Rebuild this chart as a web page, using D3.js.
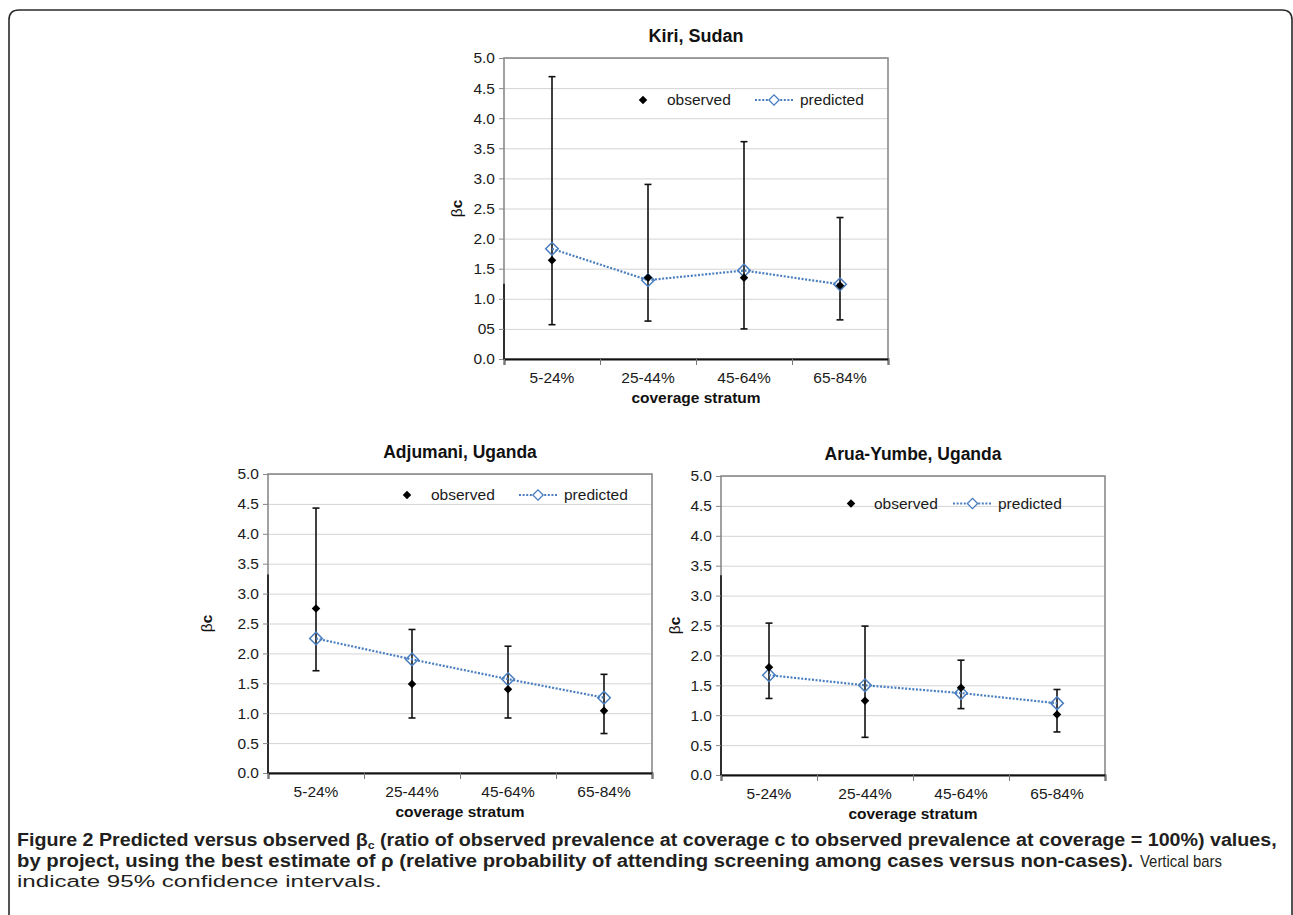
<!DOCTYPE html>
<html>
<head>
<meta charset="utf-8">
<script src="https://cdn.jsdelivr.net/npm/d3@7"></script>
<style>
  body { margin: 0; background: #fff; }
  svg  { display: block; font-family: 'Liberation Sans', Arial, sans-serif; }
  .grid line { stroke: #d4d4d4; stroke-width: 1; }
  .grid .domain { display: none; }
  .yaxis text, .xaxis text { fill: #1a1a1a; font-size: 15.5px; }
  .caption { font-family: 'Liberation Sans', Arial, sans-serif; fill: #231f20; }
</style>
</head>
<body>
<svg id="chart" width="1293" height="915"></svg>
<script>
// ---- data --------------------------------------------------------------------
const categories    = [ '5-24%', '25-44%', '45-64%', '65-84%' ];
const yTicks        = [ 0, 0.5, 1, 1.5, 2, 2.5, 3, 3.5, 4, 4.5, 5 ];
const yTickLabels   = [ '0.0', '0.5', '1.0', '1.5', '2.0', '2.5', '3.0', '3.5', '4.0', '4.5', '5.0' ];
const kiriTickLabels = [ '0.0', '05', '1.0', '1.5', '2.0', '2.5', '3.0', '3.5', '4.0', '4.5', '5.0' ];

const kiriObserved  = [ 1.64, 1.35, 1.35, 1.22 ];
const kiriPredicted = [ 1.83, 1.31, 1.47, 1.24 ];
const kiriLower     = [ 0.57, 0.63, 0.50, 0.65 ];
const kiriUpper     = [ 4.69, 2.90, 3.61, 2.35 ];

const adjuObserved  = [ 2.75, 1.49, 1.40, 1.04 ];
const adjuPredicted = [ 2.25, 1.90, 1.57, 1.26 ];
const adjuLower     = [ 1.71, 0.92, 0.92, 0.66 ];
const adjuUpper     = [ 4.43, 2.40, 2.12, 1.65 ];

const aruaObserved  = [ 1.80, 1.24, 1.46, 1.01 ];
const aruaPredicted = [ 1.67, 1.50, 1.37, 1.20 ];
const aruaLower     = [ 1.28, 0.63, 1.11, 0.72 ];
const aruaUpper     = [ 2.54, 2.49, 1.92, 1.43 ];

// ---- panel layout ------------------------------------------------------------
const panels = [
  { title: 'Kiri, Sudan', labels: kiriTickLabels,
    obs: kiriObserved, pred: kiriPredicted, lo: kiriLower, hi: kiriUpper,
    left: 504, top: 58, width: 384, height: 301, yLabelDx: 47, darkFrom: 1.25,
    legend: { y: 42, obs: 139, obsText: 163, line0: 251, line1: 289, predText: 296 } },
  { title: 'Adjumani, Uganda', labels: yTickLabels,
    obs: adjuObserved, pred: adjuPredicted, lo: adjuLower, hi: adjuUpper,
    left: 268, top: 474, width: 384, height: 299, yLabelDx: 61, darkFrom: 3.32,
    legend: { y: 21, obs: 139, obsText: 163, line0: 251, line1: 289, predText: 296 } },
  { title: 'Arua-Yumbe, Uganda', labels: yTickLabels,
    obs: aruaObserved, pred: aruaPredicted, lo: aruaLower, hi: aruaUpper,
    left: 721, top: 476, width: 384, height: 299, yLabelDx: 46, darkFrom: 3.34,
    legend: { y: 27.5, obs: 130, obsText: 153, line0: 232, line1: 271, predText: 277 } }
];

const blue = '#4a7ebf';
const svg  = d3.select( '#chart' );

// Outer rounded frame (bottom edge runs off the page).
svg.append( 'path' )
  .attr( 'd', 'M9,930 V20 Q9,10 19,10 H1282 Q1292,10 1292,20 V930' )
  .attr( 'fill', 'none' )
  .attr( 'stroke', '#2a2a2a' )
  .attr( 'stroke-width', 1.6 );

const diamond = size => d3.symbol( d3.symbolSquare, size )( );

panels.forEach( p => {
  const g = svg.append( 'g' ).attr( 'transform', `translate(${p.left},${p.top})` );
  const x = d3.scaleBand( ).domain( categories ).range( [ 0, p.width ] );
  const xEdge = d3.scaleLinear( ).domain( [ 0, categories.length ] ).range( [ 0, p.width ] );
  const y = d3.scaleLinear( ).domain( [ 0, 5 ] ).range( [ p.height, 0 ] );
  const cx = c => x( c ) + x.bandwidth( ) / 2;

  // grid lines
  g.append( 'g' ).attr( 'class', 'grid' )
    .call( d3.axisLeft( y ).tickValues( yTicks.slice( 1 ) ).tickSize( -p.width ).tickFormat( '' ) );

  // plot frame
  g.append( 'rect' )
    .attr( 'width', p.width ).attr( 'height', p.height )
    .attr( 'fill', 'none' ).attr( 'stroke', '#8a8a8a' ).attr( 'stroke-width', 1.6 );
  g.append( 'line' )
    .attr( 'x1', 0 ).attr( 'x2', 0 ).attr( 'y1', y( p.darkFrom ) ).attr( 'y2', p.height )
    .attr( 'stroke', '#111' ).attr( 'stroke-width', 1.6 );

  // y axis
  const yAxis = g.append( 'g' ).attr( 'class', 'yaxis' )
    .call( d3.axisLeft( y ).tickValues( yTicks ).tickFormat( ( d, i ) => p.labels[i] )
      .tickSize( 5 ).tickPadding( 4 ) );
  yAxis.select( '.domain' ).remove( );
  yAxis.selectAll( '.tick line' ).attr( 'stroke', '#888' );

  // x axis: boundary ticks + centred labels
  const xTicks = g.append( 'g' ).attr( 'transform', `translate(0,${p.height})` )
    .call( d3.axisBottom( xEdge ).tickValues( d3.range( categories.length + 1 ) )
      .tickSize( 6 ).tickFormat( '' ) );
  xTicks.select( '.domain' ).attr( 'stroke', '#111' ).attr( 'stroke-width', 1.8 );
  xTicks.selectAll( '.tick line' ).attr( 'stroke', '#777' );
  const xAxis = g.append( 'g' ).attr( 'class', 'xaxis' ).attr( 'transform', `translate(0,${p.height})` )
    .call( d3.axisBottom( x ).tickSize( 0 ).tickPadding( 13 ) );
  xAxis.select( '.domain' ).remove( );

  // titles
  g.append( 'text' )
    .attr( 'x', p.width / 2 ).attr( 'y', -16 )
    .attr( 'text-anchor', 'middle' ).attr( 'font-weight', 'bold' )
    .attr( 'font-size', p.title === 'Kiri, Sudan' ? 18 : 17.5 ).attr( 'fill', '#111' )
    .text( p.title );
  g.append( 'text' )
    .attr( 'x', p.width / 2 ).attr( 'y', p.height + 44 )
    .attr( 'text-anchor', 'middle' ).attr( 'font-weight', 'bold' )
    .attr( 'font-size', 15.5 ).attr( 'fill', '#111' )
    .text( 'coverage stratum' );
  const yl = g.append( 'text' )
    .attr( 'transform', `translate(${-p.yLabelDx + 5},${p.height / 2}) rotate(-90)` )
    .attr( 'text-anchor', 'middle' ).attr( 'font-size', 15.5 ).attr( 'fill', '#111' );
  yl.append( 'tspan' ).text( 'β' );
  yl.append( 'tspan' ).attr( 'font-weight', 'bold' ).text( 'c' );

  // error bars
  const eb = g.append( 'g' ).selectAll( 'g' ).data( categories ).join( 'g' )
    .attr( 'stroke', '#111' ).attr( 'stroke-width', 1.6 );
  eb.append( 'line' )
    .attr( 'x1', cx ).attr( 'x2', cx )
    .attr( 'y1', ( d, i ) => y( p.lo[i] ) ).attr( 'y2', ( d, i ) => y( p.hi[i] ) );
  [ p.lo, p.hi ].forEach( arr => {
    eb.append( 'line' )
      .attr( 'x1', d => cx( d ) - 3.5 ).attr( 'x2', d => cx( d ) + 3.5 )
      .attr( 'y1', ( d, i ) => y( arr[i] ) ).attr( 'y2', ( d, i ) => y( arr[i] ) );
  } );

  // predicted line + hollow diamonds
  g.append( 'path' )
    .datum( categories )
    .attr( 'fill', 'none' ).attr( 'stroke', blue ).attr( 'stroke-width', 2.2 )
    .attr( 'stroke-dasharray', '2,1.6' )
    .attr( 'd', d3.line( ).x( cx ).y( ( d, i ) => y( p.pred[i] ) ) );
  g.append( 'g' ).selectAll( 'path' ).data( categories ).join( 'path' )
    .attr( 'd', diamond( 80 ) )
    .attr( 'transform', ( d, i ) => `translate(${cx( d )},${y( p.pred[i] )}) rotate(45)` )
    .attr( 'fill', 'none' ).attr( 'stroke', blue ).attr( 'stroke-width', 1.5 );

  // observed diamonds
  g.append( 'g' ).selectAll( 'path' ).data( categories ).join( 'path' )
    .attr( 'd', diamond( 36 ) )
    .attr( 'transform', ( d, i ) => `translate(${cx( d )},${y( p.obs[i] )}) rotate(45)` )
    .attr( 'fill', '#000' );

  // legend
  const L = p.legend;
  const lg = g.append( 'g' ).attr( 'transform', `translate(0,${L.y})` );
  lg.append( 'path' ).attr( 'd', diamond( 36 ) )
    .attr( 'transform', `translate(${L.obs},0) rotate(45)` ).attr( 'fill', '#000' );
  lg.append( 'text' ).attr( 'x', L.obsText ).attr( 'dy', '0.35em' )
    .attr( 'font-size', 15.5 ).attr( 'fill', '#1a1a1a' ).text( 'observed' );
  lg.append( 'line' ).attr( 'x1', L.line0 ).attr( 'x2', L.line1 )
    .attr( 'stroke', blue ).attr( 'stroke-width', 2 ).attr( 'stroke-dasharray', '2,1.6' );
  lg.append( 'path' ).attr( 'd', diamond( 52 ) )
    .attr( 'transform', `translate(${( L.line0 + L.line1 ) / 2},0) rotate(45)` )
    .attr( 'fill', '#fff' ).attr( 'stroke', blue ).attr( 'stroke-width', 1.3 );
  lg.append( 'text' ).attr( 'x', L.predText ).attr( 'dy', '0.35em' )
    .attr( 'font-size', 15.5 ).attr( 'fill', '#1a1a1a' ).text( 'predicted' );
} );

// ---- caption -----------------------------------------------------------------
// Each caption line is drawn at its natural width and then scaled horizontally
// so it spans the same width as in the figure (the original uses a condensed face).
const fitLine = ( sel, x0, y0, width ) => {
  const natural = sel.node( ).getComputedTextLength( );
  sel.attr( 'transform', `translate(${x0},${y0}) scale(${width / natural},1)` );
  return sel;
};

const cap1 = svg.append( 'text' ).attr( 'class', 'caption' )
  .attr( 'font-size', 17.5 ).attr( 'font-weight', 'bold' );
cap1.append( 'tspan' ).text( 'Figure 2 Predicted versus observed β' );
cap1.append( 'tspan' ).attr( 'font-size', 11 ).attr( 'dy', 3 ).text( 'c' );
cap1.append( 'tspan' ).attr( 'dy', -3 )
  .text( ' (ratio of observed prevalence at coverage c to observed prevalence at coverage = 100%) values,' );
fitLine( cap1, 17, 846, 1260 );

fitLine( svg.append( 'text' ).attr( 'class', 'caption' )
  .attr( 'font-size', 17.5 ).attr( 'font-weight', 'bold' )
  .text( 'by project, using the best estimate of ρ (relative probability of attending screening among cases versus non-cases).' ),
  17, 867, 1117 );
fitLine( svg.append( 'text' ).attr( 'class', 'caption' )
  .attr( 'font-size', 17 ).attr( 'fill', '#444' )
  .text( 'Vertical bars' ),
  1140, 867, 82 );
fitLine( svg.append( 'text' ).attr( 'class', 'caption' )
  .attr( 'font-size', 17 ).attr( 'fill', '#444' )
  .text( 'indicate 95% confidence intervals.' ),
  17, 887, 365 );
</script>
</body>
</html>
